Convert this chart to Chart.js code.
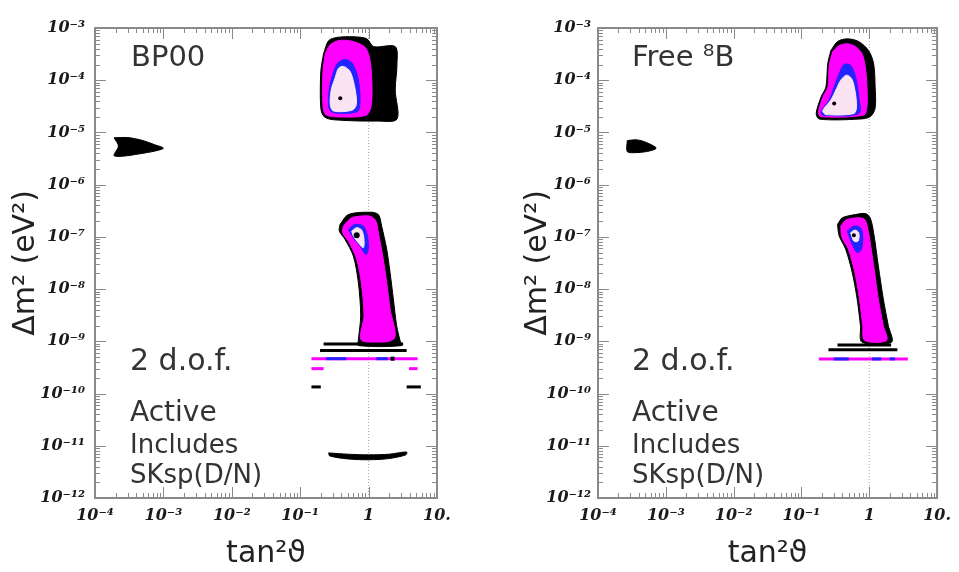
<!DOCTYPE html>
<html>
<head>
<meta charset="utf-8">
<script src="https://cdn.jsdelivr.net/npm/chart.js@4.4.1/dist/chart.umd.min.js"></script>
<style>
  html, body { margin: 0; padding: 0; background: #fff; }
  #page { position: relative; width: 959px; height: 572px; overflow: hidden; }
  canvas { position: absolute; top: 0; }
  .note { position: absolute; font-family: 'DejaVu Sans', sans-serif; color: #333; line-height: 1; white-space: nowrap; }
</style>
</head>
<body>
<div id="page">
  <canvas id="left" width="480" height="572" style="left:0"></canvas>
  <canvas id="right" width="479" height="572" style="left:480px"></canvas>

  <div class="note" style="left:131px;top:42px;font-size:29px">BP00</div>
  <div class="note" style="left:130px;top:345px;font-size:30px">2 d.o.f.</div>
  <div class="note" style="left:130px;top:398px;font-size:28px">Active</div>
  <div class="note" style="left:130px;top:431px;font-size:26px">Includes</div>
  <div class="note" style="left:130px;top:461px;font-size:26px">SKsp(D/N)</div>

  <div class="note" style="left:632px;top:42px;font-size:29px">Free ⁸B</div>
  <div class="note" style="left:632px;top:345px;font-size:30px">2 d.o.f.</div>
  <div class="note" style="left:632px;top:398px;font-size:28px">Active</div>
  <div class="note" style="left:632px;top:431px;font-size:26px">Includes</div>
  <div class="note" style="left:632px;top:461px;font-size:26px">SKsp(D/N)</div>
</div>
<script>
// axes
const xDecades = [1e-4, 1e-3, 1e-2, 1e-1, 1, 10];
const xTickLabels = ['10⁻⁴', '10⁻³', '10⁻²', '10⁻¹', '1', '10.'];
const yDecades = [1e-12, 1e-11, 1e-10, 1e-9, 1e-8, 1e-7, 1e-6, 1e-5, 1e-4, 1e-3];
const yTickLabels = ['10⁻¹²', '10⁻¹¹', '10⁻¹⁰', '10⁻⁹', '10⁻⁸', '10⁻⁷', '10⁻⁶', '10⁻⁵', '10⁻⁴', '10⁻³'];

// maximal mixing guide, tan^2 = 1
const unitLine = [[1, 1e-12], [1, 1e-3]];

// ---- BP00 panel: allowed regions as [tan2, dm2] outlines ----
const leftLmaBlack = [[0.219,3.2e-4],[0.26,5.7e-4],[0.344,6.6e-4],[0.603,6.8e-4],[0.946,6.2e-4],[1.18,4.4e-4],[2.45,4.4e-4],[2.6,2.0e-4],[2.45,6.5e-5],[2.6,1.8e-5],[1.32,1.65e-5],[0.308,1.75e-5],[0.224,2.0e-5],[0.2,2.9e-5],[0.2,1.45e-4]];
const leftLmaMagenta = [[0.232,3.2e-4],[0.275,4.8e-4],[0.385,5.8e-4],[0.603,5.5e-4],[0.9,4.2e-4],[1.05,2.4e-4],[1.12,8e-5],[1.08,3.0e-5],[0.9,2.1e-5],[0.308,2.0e-5],[0.232,2.25e-5],[0.215,3.4e-5],[0.215,1.45e-4]];
const leftLmaBlue = [[0.308,1.45e-4],[0.35,2.1e-4],[0.45,2.5e-4],[0.58,2.1e-4],[0.7,1.1e-4],[0.75,4.0e-5],[0.68,2.5e-5],[0.3,2.4e-5],[0.26,3.1e-5],[0.27,7.6e-5]];
const leftLmaPink = [[0.325,1.13e-4],[0.364,1.7e-4],[0.431,1.84e-4],[0.54,1.45e-4],[0.638,6.5e-5],[0.661,3.4e-5],[0.57,2.65e-5],[0.308,2.57e-5],[0.275,3.4e-5],[0.284,6.5e-5]];
const leftLmaFit = [[0.385, 4.5e-5]];

const leftSmaBlack = [[1.9e-4,7.9e-6],[3.0e-4,8.0e-6],[5.0e-4,7.0e-6],[7.5e-4,5.8e-6],[1.0e-3,5.0e-6],[7.5e-4,4.4e-6],[4.5e-4,3.9e-6],[2.5e-4,3.5e-6],[1.9e-4,3.6e-6],[2.2e-4,5.5e-6]];

const leftLowBlack = [[0.382,1.73e-7],[0.506,2.68e-7],[1.05,2.97e-7],[1.39,2.68e-7],[1.55,1.61e-7],[1.84,5.8e-8],[2.06,2.07e-8],[2.30,6.5e-9],[2.57,2.0e-9],[2.88,1.04e-9],[3.05,8.3e-10],[0.708,8.3e-10],[0.708,1.04e-9],[0.766,3.1e-9],[0.708,1.34e-8],[0.598,4.3e-8],[0.452,8.95e-8],[0.373,1.29e-7]];
const leftLowMagenta = [[0.427,1.61e-7],[0.566,2.32e-7],[1.05,2.5e-7],[1.28,2.0e-7],[1.39,1.2e-7],[1.61,4.3e-8],[1.84,1.34e-8],[2.06,4.2e-9],[2.35,1.12e-9],[0.792,1.04e-9],[0.857,3.1e-9],[0.792,1.16e-8],[0.67,3.7e-8],[0.522,7.7e-8],[0.418,1.2e-7]];
const leftLowBlue = [[0.506,1.39e-7],[0.632,1.73e-7],[0.837,1.61e-7],[0.96,1.04e-7],[0.99,5.8e-8],[0.916,4.6e-8],[0.748,6.7e-8],[0.598,9.6e-8]];
const leftLowPink = [[0.566,1.29e-7],[0.67,1.5e-7],[0.792,1.35e-7],[0.857,8.95e-8],[0.837,6.2e-8],[0.708,7.7e-8],[0.598,1.04e-7]];
const leftLowFit = [[0.67, 1.07e-7]];

const leftVacBlack = [[0.26,7.3e-12],[0.5,6.9e-12],[1,6.7e-12],[2,6.9e-12],[3.6,7.6e-12],[3.5,6.7e-12],[2,5.7e-12],[1,5.4e-12],[0.5,5.6e-12],[0.27,6.4e-12]];

// thin bands: [dm2, tan2 from, tan2 to]
const leftBlackBands = [[8.9e-10,0.22,3.2],[6.7e-10,0.195,3.6],[1.34e-10,0.146,0.2],[1.34e-10,3.6,5.8]];
const leftMagentaBands = [[4.65e-10,0.146,5.2],[3.0e-10,0.146,0.22],[3.0e-10,3.9,5.2]];
const leftBlueBands = [[4.65e-10,0.24,0.47],[4.65e-10,1.3,1.9]];
const leftSpecks = [[4.65e-10,2.1,2.4]];

// ---- Free 8B panel ----
const rightLmaBlack = [[0.272,3.7e-4],[0.34,5.5e-4],[0.474,6.2e-4],[0.70,5.5e-4],[0.977,3.7e-4],[1.16,2.07e-4],[1.22,7.5e-5],[1.22,2.9e-5],[1.03,2.0e-5],[0.70,1.8e-5],[0.184,1.8e-5],[0.165,2.3e-5],[0.195,4.8e-5],[0.23,7.5e-5],[0.244,2.07e-4]];
const rightLmaMagenta = [[0.288,3.5e-4],[0.36,4.6e-4],[0.474,5.0e-4],[0.627,4.4e-4],[0.783,3.2e-4],[0.875,1.8e-4],[0.925,7.5e-5],[0.925,3.1e-5],[0.828,2.15e-5],[0.195,2.0e-5],[0.178,2.4e-5],[0.206,4.7e-5],[0.246,7.5e-5],[0.257,1.93e-4]];
const rightLmaBlue = [[0.304,7.5e-5],[0.36,1.34e-4],[0.425,2.0e-4],[0.531,1.93e-4],[0.627,1.16e-4],[0.70,4.8e-5],[0.70,2.3e-5],[0.206,2.15e-5],[0.195,2.5e-5],[0.257,4.2e-5]];
const rightLmaPink = [[0.329,6.9e-5],[0.38,1.0e-4],[0.459,1.25e-4],[0.548,1.08e-4],[0.613,6.5e-5],[0.649,3.1e-5],[0.593,2.3e-5],[0.23,2.2e-5],[0.206,2.6e-5],[0.272,4.2e-5]];
const rightLmaFit = [[0.304, 3.6e-5]];

const rightSmaBlack = [[2.7e-4,7.0e-6],[3.8e-4,7.2e-6],[5.2e-4,6.4e-6],[7.2e-4,5.0e-6],[5.2e-4,4.3e-6],[3.5e-4,4.1e-6],[2.7e-4,4.3e-6]];

const rightLowBlack = [[0.34,1.73e-7],[0.402,2.32e-7],[0.627,2.68e-7],[0.875,2.8e-7],[1.03,2.32e-7],[1.16,1.2e-7],[1.36,2.8e-8],[1.61,6.5e-9],[1.91,2.0e-9],[2.13,9.6e-10],[0.783,9.6e-10],[0.741,2.0e-9],[0.662,6.5e-9],[0.561,2.07e-8],[0.449,5.8e-8],[0.36,1.04e-7]];
const rightLowMagenta = [[0.38,1.61e-7],[0.449,2.09e-7],[0.662,2.32e-7],[0.856,2.15e-7],[0.977,1.2e-7],[1.16,2.8e-8],[1.36,6.5e-9],[1.61,2.0e-9],[1.8,1.04e-9],[0.856,1.04e-9],[0.8,2.0e-9],[0.716,6.5e-9],[0.613,2.07e-8],[0.491,5.8e-8],[0.393,1.0e-7]];
const rightLowBlue = [[0.474,1.29e-7],[0.593,1.61e-7],[0.741,1.5e-7],[0.8,1.04e-7],[0.766,5.8e-8],[0.662,5.0e-8],[0.548,7.7e-8]];
const rightLowPink = [[0.531,1.2e-7],[0.613,1.35e-7],[0.70,1.2e-7],[0.686,8.3e-8],[0.593,8.3e-8]];
const rightLowFit = [[0.593, 1.07e-7]];

const rightBlackBands = [[8.5e-10,0.34,2.1],[6.9e-10,0.25,2.6]];
const rightMagentaBands = [[4.6e-10,0.18,3.7]];
const rightBlueBands = [[4.6e-10,0.3,0.5],[4.6e-10,1.1,1.5],[4.6e-10,2.0,2.4]];

const BLACK = '#000', MAGENTA = '#ff00ff', BLUE = '#2424ff', PINK = '#fbe4f1';

const pts = list => list.map(([x, y]) => ({x, y}));

function region(list, color) {
  const data = pts(list);
  data.push({x: list[0][0], y: list[0][1]});
  return { data, showLine: true, fill: 'shape', tension: 0.3,
    backgroundColor: color, borderColor: color, borderWidth: 1, pointRadius: 0 };
}
function bands(list, color, width) {
  return list.map(([y, x1, x2]) => ({
    data: [{x: x1, y}, {x: x2, y}], showLine: true, fill: false,
    borderColor: color, borderWidth: width, pointRadius: 0
  }));
}
function dots(list, r) {
  return { data: pts(list), showLine: false, pointRadius: r,
    pointBackgroundColor: BLACK, pointBorderWidth: 0 };
}

function logTicks(decades) {
  const out = [];
  decades.forEach((d, i) => {
    if (i === decades.length - 1) { out.push({value: d, major: true}); return; }
    for (let k = 1; k <= 9; k++) out.push({value: k * d, major: k === 1});
  });
  return out;
}
function labelFor(v, decades, labels) {
  const i = decades.findIndex(d => Math.abs(Math.log10(v / d)) < 1e-6);
  return i < 0 ? '' : labels[i];
}

// box with inward ticks on every side
const frameTicks = {
  id: 'frameTicks',
  afterDatasetsDraw(chart) {
    const {ctx, chartArea: a, scales: {x, y}} = chart;
    ctx.save();
    ctx.strokeStyle = '#8a8a8a';
    ctx.lineWidth = 1;
    ctx.beginPath();
    for (const t of x.ticks) {
      const p = Math.round(x.getPixelForValue(t.value)) + 0.5;
      const len = t.major ? 11 : 5;
      ctx.moveTo(p, a.bottom); ctx.lineTo(p, a.bottom - len);
      ctx.moveTo(p, a.top); ctx.lineTo(p, a.top + len);
    }
    for (const t of y.ticks) {
      const p = Math.round(y.getPixelForValue(t.value)) + 0.5;
      const len = t.major ? 11 : 5;
      ctx.moveTo(a.left, p); ctx.lineTo(a.left + len, p);
      ctx.moveTo(a.right, p); ctx.lineTo(a.right - len, p);
    }
    ctx.stroke();
    ctx.lineWidth = 2;
    ctx.strokeRect(a.left, a.top, a.right - a.left, a.bottom - a.top);
    ctx.restore();
  }
};

const tickFont = { family: "'DejaVu Serif', 'Liberation Serif', serif", size: 16, style: 'italic', weight: 'bold' };
const titleFont = { family: "'DejaVu Sans', sans-serif", size: 30 };

function makePanel(id, layers, opt) {
  const datasets = [];
  datasets.push({ data: pts(unitLine), showLine: true, fill: false, borderColor: '#a8a8a8',
    borderWidth: 1, borderDash: [1, 2], pointRadius: 0 });
  layers.forEach(l => Array.isArray(l) ? datasets.push(...l) : datasets.push(l));
  // first in list is painted first
  datasets.forEach((d, i) => { d.order = datasets.length - i; });

  new Chart(document.getElementById(id), {
    type: 'scatter',
    data: { datasets },
    options: {
      responsive: false,
      animation: false,
      events: [],
      devicePixelRatio: 1,
      layout: { padding: { left: 0, top: 28, right: opt.padRight, bottom: 0 } },
      plugins: { legend: { display: false }, tooltip: { enabled: false } },
      scales: {
        x: {
          type: 'logarithmic', min: xDecades[0], max: xDecades[xDecades.length - 1],
          afterBuildTicks: a => { a.ticks = logTicks(xDecades); },
          afterFit: a => { a.height = 74; },
          grid: { display: false, drawTicks: false }, border: { display: false },
          ticks: { autoSkip: false, maxRotation: 0, padding: 8, color: '#1a1a1a', font: tickFont,
            callback: v => labelFor(v, xDecades, xTickLabels) },
          title: { display: true, text: 'tan²ϑ', color: '#222', font: titleFont, padding: { top: 0, bottom: 0 } }
        },
        y: {
          type: 'logarithmic', min: yDecades[0], max: yDecades[yDecades.length - 1],
          afterBuildTicks: a => { a.ticks = logTicks(yDecades); },
          afterFit: a => { a.width = opt.yWidth; },
          grid: { display: false, drawTicks: false }, border: { display: false },
          ticks: { autoSkip: false, padding: opt.labelGap, color: '#1a1a1a', font: tickFont,
            callback: v => labelFor(v, yDecades, yTickLabels) },
          title: { display: true, text: 'Δm² (eV²)', color: '#222', font: titleFont, padding: { top: opt.titleGap, bottom: 0 } }
        }
      }
    },
    plugins: [frameTicks]
  });
}

makePanel('left', [
  region(leftLmaBlack, BLACK), region(leftLmaMagenta, MAGENTA), region(leftLmaBlue, BLUE), region(leftLmaPink, PINK),
  region(leftSmaBlack, BLACK),
  region(leftLowBlack, BLACK), region(leftLowMagenta, MAGENTA), region(leftLowBlue, BLUE), region(leftLowPink, PINK),
  region(leftVacBlack, BLACK),
  bands(leftBlackBands, BLACK, 3), bands(leftMagentaBands, MAGENTA, 3), bands(leftBlueBands, BLUE, 3), bands(leftSpecks, BLACK, 4),
  dots(leftLmaFit, 2), dots(leftLowFit, 3)
], { padRight: 43, yWidth: 95, labelGap: 10, titleGap: 8 });

makePanel('right', [
  region(rightLmaBlack, BLACK), region(rightLmaMagenta, MAGENTA), region(rightLmaBlue, BLUE), region(rightLmaPink, PINK),
  region(rightSmaBlack, BLACK),
  region(rightLowBlack, BLACK), region(rightLowMagenta, MAGENTA), region(rightLowBlue, BLUE), region(rightLowPink, PINK),
  bands(rightBlackBands, BLACK, 3), bands(rightMagentaBands, MAGENTA, 3), bands(rightBlueBands, BLUE, 3),
  dots(rightLmaFit, 2), dots(rightLowFit, 2)
], { padRight: 17, yWidth: 118, labelGap: 7, titleGap: 40 });
</script>
</body>
</html>
